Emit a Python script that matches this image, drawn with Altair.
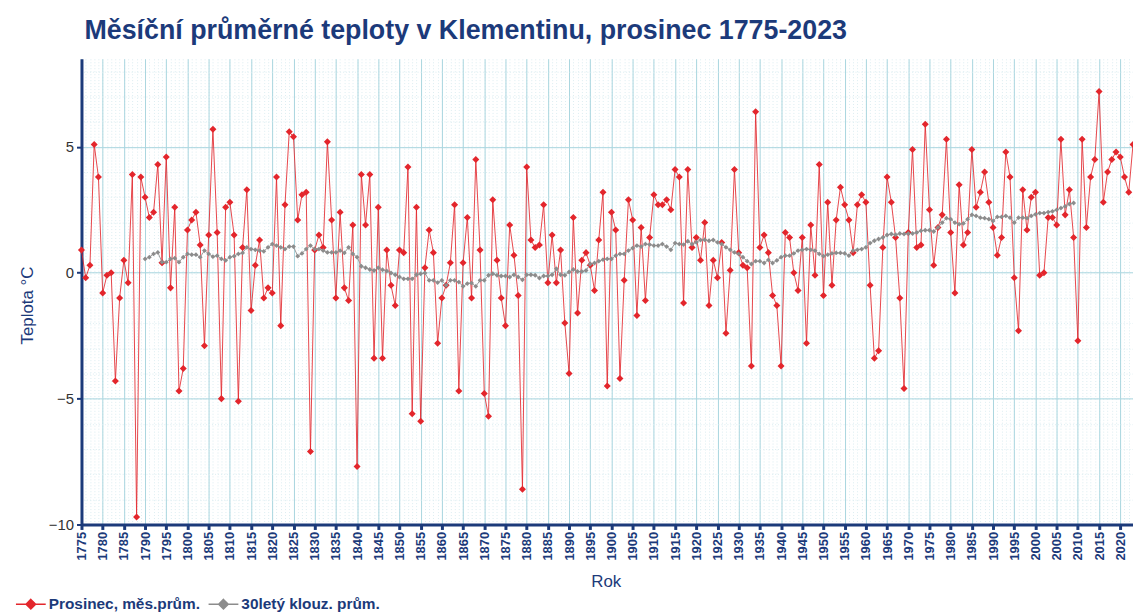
import altair as alt
import pandas as pd

# ---------------- data ----------------
years = list(range(1775, 2024))
dec_temp = [
    0.9, -0.2, 0.3, 5.1, 3.8,                                   # 1775-1779
    -0.8, -0.1, 0.0, -4.3, -1.0, 0.5, -0.4, 3.9, -9.7, 3.8,     # 1780s
    3.0, 2.2, 2.4, 4.3, 0.4, 4.6, -0.6, 2.6, -4.7, -3.8,        # 1790s
    1.7, 2.1, 2.4, 1.1, -2.9, 1.5, 5.7, 1.6, -5.0, 2.6,         # 1800s
    2.8, 1.5, -5.1, 1.0, 3.3, -1.5, 0.3, 1.3, -1.0, -0.6,       # 1810s
    -0.8, 3.8, -2.1, 2.7, 5.6, 5.4, 2.1, 3.1, 3.2, -7.1,        # 1820s
    0.9, 1.5, 1.0, 5.2, 2.1, -1.0, 2.4, -0.6, -1.1, 1.9,        # 1830s
    -7.7, 3.9, 1.9, 3.9, -3.4, 2.6, -3.4, 0.9, -0.5, -1.3,      # 1840s
    0.9, 0.8, 4.2, -5.6, 2.6, -5.9, 0.2, 1.7, 0.8, -2.8,        # 1850s
    -1.0, -0.5, 0.4, 2.7, -4.7, 0.4, 2.2, -1.0, 4.5, 0.9,       # 1860s
    -4.8, -5.7, 2.9, 0.5, -1.0, -2.1, 1.9, 0.7, -0.9, -8.6,     # 1870s
    4.2, 1.3, 1.0, 1.1, 2.7, -0.4, 1.5, -0.4, 0.9, -2.0,        # 1880s
    -4.0, 2.2, -1.6, 0.5, 0.8, 0.3, -0.7, 1.3, 3.2, -4.5,       # 1890s
    2.4, 1.7, -4.2, -0.3, 2.9, 2.1, -1.7, 1.8, -1.1, 1.4,       # 1900s
    3.1, 2.7, 2.7, 2.9, 2.5, 4.1, 3.8, -1.2, 4.1, 1.0,          # 1910s
    1.4, 0.5, 2.0, -1.3, 0.5, -0.2, 1.2, -2.4, 0.1, 4.1,        # 1920s
    0.8, 0.3, 0.2, -3.7, 6.4, 1.0, 1.5, 0.8, -0.9, -1.3,        # 1930s
    -3.7, 1.6, 1.4, 0.0, -0.7, 1.4, -2.8, 1.9, -0.1, 4.3,       # 1940s
    -0.9, 2.8, -0.5, 2.1, 3.4, 2.7, 2.1, 0.8, 2.7, 3.1,         # 1950s
    2.8, -0.5, -3.4, -3.1, 1.0, 3.8, 2.8, 1.4, -1.0, -4.6,      # 1960s
    1.6, 4.9, 1.0, 1.1, 5.9, 2.5, 0.3, 1.8, 2.3, 5.3,           # 1970s
    1.6, -0.8, 3.5, 1.1, 1.6, 4.9, 2.6, 3.2, 4.0, 2.8,          # 1980s
    1.8, 0.7, 1.4, 4.8, 3.8, -0.2, -2.3, 3.3, 1.7, 3.0,         # 1990s
    3.2, -0.1, 0.0, 2.2, 2.2, 1.9, 5.3, 2.3, 3.3, 1.4,          # 2000s
    -2.7, 5.3, 1.8, 3.8, 4.5, 7.2, 2.8, 4.0, 4.5, 4.8,          # 2010s
    4.6, 3.8, 3.2, 5.1,                                         # 2020-2023
]

ma_years = list(range(1790, 2010))
ma_temp = [
    0.55, 0.62, 0.75, 0.81, 0.42, 0.42, 0.55, 0.58, 0.42, 0.62,  # 1790s
    0.75, 0.72, 0.72, 0.62, 0.88, 0.75, 0.64, 0.68, 0.55, 0.49,  # 1800s
    0.62, 0.66, 0.75, 0.79, 1.01, 0.94, 0.91, 0.88, 0.85, 1.01,  # 1810s
    1.14, 1.08, 1.01, 0.94, 1.04, 1.04, 0.66, 0.77, 0.94, 1.08,  # 1820s
    0.94, 0.94, 0.88, 0.81, 0.81, 0.81, 0.88, 0.79, 1.01, 0.75,  # 1830s
    0.62, 0.26, 0.20, 0.13, 0.09, 0.20, 0.12, 0.07, -0.01, -0.08,  # 1840s
    -0.17, -0.24, -0.24, -0.24, -0.08, -0.04, -0.01, -0.30, -0.30, -0.39,  # 1850s
    -0.30, -0.50, -0.30, -0.30, -0.37, -0.54, -0.43, -0.41, -0.54, -0.30,  # 1860s
    -0.30, -0.10, -0.04, -0.10, -0.13, -0.13, -0.17, -0.08, -0.17, -0.28,  # 1870s
    -0.08, -0.08, -0.10, -0.21, -0.13, -0.13, -0.08, 0.16, -0.08, -0.10,   # 1880s
    0.03, 0.13, 0.05, 0.05, 0.09, 0.35, 0.39, 0.46, 0.52, 0.55,  # 1890s
    0.55, 0.68, 0.75, 0.75, 0.88, 0.98, 1.08, 1.04, 1.14, 1.12,  # 1900s
    1.08, 1.08, 1.14, 1.04, 0.91, 1.18, 1.14, 1.12, 1.25, 1.14,  # 1910s
    1.21, 1.30, 1.31, 1.27, 1.30, 1.21, 1.14, 1.01, 0.91, 0.81,  # 1920s
    0.75, 0.62, 0.46, 0.35, 0.46, 0.46, 0.39, 0.51, 0.39, 0.49,  # 1930s
    0.62, 0.68, 0.68, 0.77, 0.88, 0.91, 0.94, 0.91, 0.88, 0.75,  # 1940s
    0.66, 0.72, 0.77, 0.79, 0.79, 0.77, 0.68, 0.88, 0.91, 0.94,  # 1950s
    1.01, 1.18, 1.27, 1.34, 1.40, 1.50, 1.54, 1.51, 1.56, 1.54,  # 1960s
    1.56, 1.56, 1.60, 1.67, 1.69, 1.69, 1.64, 1.80, 1.99, 2.17,  # 1970s
    2.13, 1.99, 1.93, 1.96, 2.13, 2.30, 2.26, 2.19, 2.17, 2.13,  # 1980s
    2.06, 2.22, 2.22, 2.26, 2.19, 1.99, 2.19, 2.19, 2.17, 2.26,  # 1990s
    2.32, 2.37, 2.37, 2.41, 2.44, 2.50, 2.57, 2.64, 2.73, 2.77,  # 2000s
]

series_names = ["Prosinec, měs.prům.", "30letý klouz. prům."]
x_ticks = list(range(1775, 2021, 5))
y_ticks = [-10, -5, 0, 5]

# ---------------- style ----------------
RED = "#e3262c"
GRAY = "#8c8c8c"
NAVY = "#1c3a7a"
GRID = "#a9d6df"
MINOR = "#dcedf1"
FONT = "Liberation Sans"

red_df = pd.DataFrame({"rok": years, "teplota": dec_temp, "rada": series_names[0]})
ma_df = pd.DataFrame({"rok": ma_years, "teplota": ma_temp, "rada": series_names[1]})

scale_x = alt.Scale(domain=[1775, 2023], nice=False, zero=False)
scale_y = alt.Scale(domain=[-10, 8.5], nice=False, zero=False)

# minor grid (every year / every degree)
minor = alt.Chart(red_df).mark_point(opacity=0).encode(
    x=alt.X("rok:Q", scale=scale_x,
            axis=alt.Axis(orient="top", values=years, grid=True, gridColor=MINOR,
                          gridDash=[1, 2], gridWidth=1, labels=False, ticks=False,
                          domain=False, title=None)),
    y=alt.Y("teplota:Q", scale=scale_y,
            axis=alt.Axis(orient="right", values=list(range(-10, 9)), grid=True,
                          gridColor=MINOR, gridDash=[1, 2], gridWidth=1, labels=False,
                          ticks=False, domain=False, title=None)),
)

x_main = alt.X(
    "rok:Q", scale=scale_x,
    axis=alt.Axis(orient="bottom", values=x_ticks, format="d", labelAngle=270,
                  labelFont=FONT, labelFontSize=13, labelFontWeight="bold",
                  labelColor=NAVY, labelPadding=2, tickSize=5, tickWidth=3,
                  tickColor=NAVY, domainColor=NAVY, domainWidth=3,
                  grid=True, gridColor=GRID, gridWidth=1,
                  title="Rok", titleFont=FONT, titleFontSize=17,
                  titleFontWeight="normal", titleColor=NAVY,
                  titleX=528, titleY=57, titleBaseline="middle",
                  labelOverlap=False),
)
y_main = alt.Y(
    "teplota:Q", scale=scale_y,
    axis=alt.Axis(orient="left", values=y_ticks, labelFont=FONT, labelFontSize=15,
                  labelColor="#333333", labelPadding=3, tickSize=5, tickWidth=2,
                  tickColor=NAVY, domainColor=NAVY, domainWidth=3,
                  grid=True, gridColor=GRID, gridWidth=1,
                  title="Teplota  °C", titleFont=FONT, titleFontSize=17,
                  titleFontWeight="normal", titleColor=NAVY,
                  titleX=-54, titleY=248, titleAlign="center",
                  titleBaseline="middle", titleAngle=270),
)
x_plain = alt.X("rok:Q", scale=scale_x, axis=None)
y_plain = alt.Y("teplota:Q", scale=scale_y, axis=None)

legend = alt.Legend(
    title=None, orient="none", legendX=-67, legendY=533, direction="horizontal",
    symbolType="M-1,0H1M0,-0.32L0.32,0L0,0.32L-0.32,0Z", symbolSize=900,
    symbolStrokeWidth=1.5, symbolOpacity=1,
    symbolFillColor={"expr": "datum.value === '%s' ? '%s' : '%s'" % (series_names[0], RED, GRAY)},
    labelFont=FONT, labelFontSize=15.5, labelFontWeight="bold", labelColor=NAVY,
    labelOffset=2, columnPadding=5,
)

red_line = alt.Chart(red_df).mark_line(strokeWidth=1, opacity=0.85).encode(
    x=x_main, y=y_main,
    color=alt.Color("rada:N", scale=alt.Scale(domain=series_names, range=[RED, GRAY]),
                    legend=legend),
)
red_pts = alt.Chart(red_df).mark_point(shape="diamond", filled=True, size=50,
                                       color=RED, opacity=1).encode(x=x_plain, y=y_plain)
ma_line = alt.Chart(ma_df).mark_line(strokeWidth=1, color="#9a9a9a").encode(x=x_plain, y=y_plain)
ma_pts = alt.Chart(ma_df).mark_point(shape="diamond", filled=True, size=24,
                                     color=GRAY, opacity=1).encode(x=x_plain, y=y_plain)

chart = (
    alt.layer(minor, red_line, red_pts, ma_line, ma_pts)
    .resolve_axis(x="independent", y="independent")
    .properties(
        width=1059, height=469,
        autosize=alt.AutoSizeParams(type="none"),
        padding={"left": 74, "top": 49, "right": 0, "bottom": 90},
        title=alt.TitleParams(
            text="Měsíční průměrné teploty v Klementinu, prosinec 1775-2023",
            anchor="start", frame="group", font=FONT, fontSize=27, fontWeight="bold",
            color=NAVY, offset=14, dx=3),
        background="white",
    )
    .configure_view(strokeWidth=0)
)

chart.save("out.html", embed_options={"renderer": "svg", "actions": False})
